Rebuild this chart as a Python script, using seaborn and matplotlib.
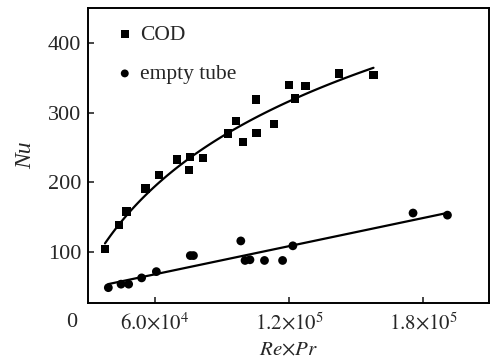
import numpy as np
import pandas as pd
import matplotlib
matplotlib.use("Agg")
import matplotlib.pyplot as plt
import seaborn as sns

# COD data
cod_x = [37600, 43900, 47300, 55800, 61900, 69900, 75200, 75700, 81600,
         92600, 96300, 99300, 105500, 105100, 113400, 120000, 122600,
         127300, 142500, 157800]
cod_y = [104, 139, 158, 191, 211, 233, 218, 236, 235,
         270, 288, 258, 271, 319, 284, 340, 320,
         338, 356, 354]

# empty tube data
tube_x = [39100, 44800, 48200, 54000, 60600, 75800, 77200, 98400, 100300,
          102500, 109000, 117100, 121700, 175500, 190900]
tube_y = [49, 54, 54, 63, 72, 95, 95, 116, 88,
          89, 88, 88, 109, 156, 153]

xticks = [60000, 120000, 180000]
xtick_labels = [r'$6.0{\times}10^{4}$', r'$1.2{\times}10^{5}$', r'$1.8{\times}10^{5}$']
yticks = [100, 200, 300, 400]

sns.set_style("ticks")
plt.rcParams['font.family'] = ['Liberation Serif', 'DejaVu Serif']
plt.rcParams['mathtext.fontset'] = 'stix'

cod = pd.DataFrame({"x": cod_x, "y": cod_y})
tube = pd.DataFrame({"x": tube_x, "y": tube_y})

fig = plt.figure(figsize=(4.96, 3.62), dpi=100)
ax = fig.add_axes([88/496, 1-303/362, (489-88)/496, (303-8)/362])

sns.regplot(data=cod, x="x", y="y", logx=True, scatter=False, ci=None,
            color="black", line_kws={"linewidth": 1.6}, ax=ax)
sns.regplot(data=tube, x="x", y="y", scatter=False, ci=None,
            color="black", line_kws={"linewidth": 1.6}, ax=ax)
sns.scatterplot(data=cod, x="x", y="y", marker="s", s=36, color="black",
                edgecolor="none", ax=ax, label="COD", zorder=3)
sns.scatterplot(data=tube, x="x", y="y", marker="o", s=40, color="black",
                edgecolor="none", ax=ax, label="empty tube", zorder=3)

ax.set_xlim(30000, 209500)
ax.set_ylim(27, 450)
ax.set_xticks(xticks)
ax.set_xticklabels(xtick_labels)
ax.set_yticks(yticks)
ax.tick_params(direction="in", length=4, width=1.2)
ax.tick_params(axis="y", labelsize=16, pad=5)
ax.tick_params(axis="x", labelsize=15, pad=7)
for sp in ax.spines.values():
    sp.set_linewidth(1.4)
    sp.set_color("black")

ax.set_xlabel(r"$\mathit{Re}{\times}\mathit{Pr}$", fontsize=15, labelpad=5)
ax.set_ylabel("Nu", fontsize=17, fontstyle="italic", labelpad=8)

ax.text(-0.04, -0.065, "0", transform=ax.transAxes, ha="center", va="center",
        fontsize=16)

ax.legend(loc="upper left", bbox_to_anchor=(0.038, 0.995), frameon=False,
          fontsize=15.5, handlelength=0.6, handletextpad=0.4, labelspacing=0.9,
          markerscale=0.9, borderaxespad=0.3)

fig.savefig("out.png", dpi=100)
